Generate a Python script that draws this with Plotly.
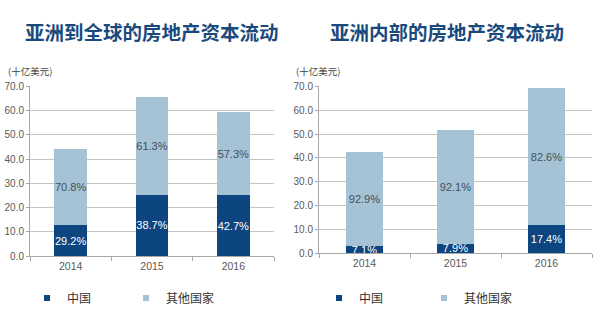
import plotly.graph_objects as go

years = ["2014", "2015", "2016"]

# Left chart: Asia -> global (billion USD)
global_china = [12.9, 25.4, 25.3]
global_other = [31.3, 40.3, 34.0]
global_china_pct = ["29.2%", "38.7%", "42.7%"]
global_other_pct = ["70.8%", "61.3%", "57.3%"]

# Right chart: intra-Asia (billion USD)
intra_china = [3.0, 4.1, 12.0]
intra_other = [39.7, 47.6, 57.2]
intra_china_pct = ["7.1%", "7.9%", "17.4%"]
intra_other_pct = ["92.9%", "92.1%", "82.6%"]

y_ticks = [0, 10, 20, 30, 40, 50, 60, 70]
series_names = ["中国", "其他国家"]
titles = ["亚洲到全球的房地产资本流动", "亚洲内部的房地产资本流动"]
unit_label = "(十亿美元)"

DARK = "#0d4580"
LIGHT = "#a6c3d6"
TITLE_C = "#1a4a7c"
TICK_C = "#595959"
GRID_C = "#c4c4c4"
AXIS_C = "#a8a8a8"
NUM_FONT = "Liberation Sans, Arial, sans-serif"
CJK_FONT = "Noto Sans CJK SC, sans-serif"

W, H = 600, 332
def px_x(p):
    return p / W
def px_y(p):
    return (H - p) / H

fig = go.Figure()

def add_bars(xa, ya, china, other, cpct, opct):
    fig.add_trace(go.Bar(
        x=years, y=china, text=cpct, textposition="inside", textangle=0,
        insidetextanchor="middle", constraintext="none",
        textfont=dict(color="white", size=11, family=NUM_FONT),
        marker=dict(color=DARK, line=dict(width=0)),
        xaxis=xa, yaxis=ya, showlegend=False, hoverinfo="skip",
        name=series_names[0]))
    fig.add_trace(go.Bar(
        x=years, y=other, text=opct, textposition="inside", textangle=0,
        insidetextanchor="middle", constraintext="none",
        textfont=dict(color="#44505c", size=11, family=NUM_FONT),
        marker=dict(color=LIGHT, line=dict(width=0)),
        xaxis=xa, yaxis=ya, showlegend=False, hoverinfo="skip",
        name=series_names[1]))

add_bars("x", "y", global_china, global_other, global_china_pct, global_other_pct)
add_bars("x2", "y2", intra_china, intra_other, intra_china_pct, intra_other_pct)

# legend entries (small square markers), one legend per entry for placement
legend_slots = [
    ("legend", "x", "y", 0, 47),
    ("legend2", "x", "y", 1, 146),
    ("legend3", "x2", "y2", 0, 339),
    ("legend4", "x2", "y2", 1, 444),
]
legend_layout = {}
for leg, xa, ya, idx, sym_x in legend_slots:
    col = [DARK, LIGHT][idx]
    fig.add_trace(go.Scatter(
        x=[None], y=[None], mode="markers", name=series_names[idx],
        marker=dict(symbol="square", size=6, color=col),
        xaxis=xa, yaxis=ya, legend=leg, showlegend=True, hoverinfo="skip"))
    legend_layout[leg] = dict(
        orientation="h", x=px_x(sym_x - 20), y=px_y(302), xanchor="left", yanchor="middle",
        font=dict(size=12, color="#333333", family=CJK_FONT),
        itemwidth=30, bgcolor="rgba(0,0,0,0)", borderwidth=0)

xcommon = dict(showline=True, linecolor=AXIS_C, linewidth=1, ticks="outside",
               tickson="boundaries", ticklen=4, tickcolor=AXIS_C,
               tickfont=dict(size=10.5, color=TICK_C, family=NUM_FONT),
               showgrid=False, fixedrange=True)
ycommon = dict(range=[0, 70], tickvals=y_ticks, tickformat=".1f",
               showline=True, linecolor=AXIS_C, linewidth=1, ticks="outside",
               ticklen=3, tickcolor=AXIS_C, showgrid=True, gridcolor=GRID_C,
               gridwidth=1, zeroline=False,
               tickfont=dict(size=10, color=TICK_C, family=NUM_FONT),
               fixedrange=True)

fig.update_layout(
    width=W, height=H, margin=dict(l=0, r=0, t=0, b=0),
    paper_bgcolor="white", plot_bgcolor="white",
    barmode="stack", bargap=0.595,
    xaxis=dict(domain=[px_x(30), px_x(274)], anchor="y", **xcommon),
    yaxis=dict(domain=[px_y(259), px_y(84)], anchor="x", **ycommon),
    xaxis2=dict(domain=[px_x(319), px_x(592)], anchor="y2", **xcommon),
    yaxis2=dict(domain=[px_y(256), px_y(84)], anchor="x2", **ycommon),
    **legend_layout,
)

annotations = [
    dict(text=titles[0], x=px_x(152), y=px_y(27), xanchor="center", yanchor="middle",
         font=dict(size=19.5, color=TITLE_C, family=CJK_FONT, weight="bold")),
    dict(text=titles[1], x=px_x(447), y=px_y(27), xanchor="center", yanchor="middle",
         font=dict(size=19.5, color=TITLE_C, family=CJK_FONT, weight="bold")),
    dict(text=unit_label, x=px_x(6), y=px_y(68), xanchor="left", yanchor="middle",
         font=dict(size=9.5, color="#404040", family=CJK_FONT)),
    dict(text=unit_label, x=px_x(294), y=px_y(68), xanchor="left", yanchor="middle",
         font=dict(size=9.5, color="#404040", family=CJK_FONT)),
]
for a in annotations:
    a.update(xref="paper", yref="paper", showarrow=False)
fig.update_layout(annotations=annotations)

fig.write_html("out.html")
